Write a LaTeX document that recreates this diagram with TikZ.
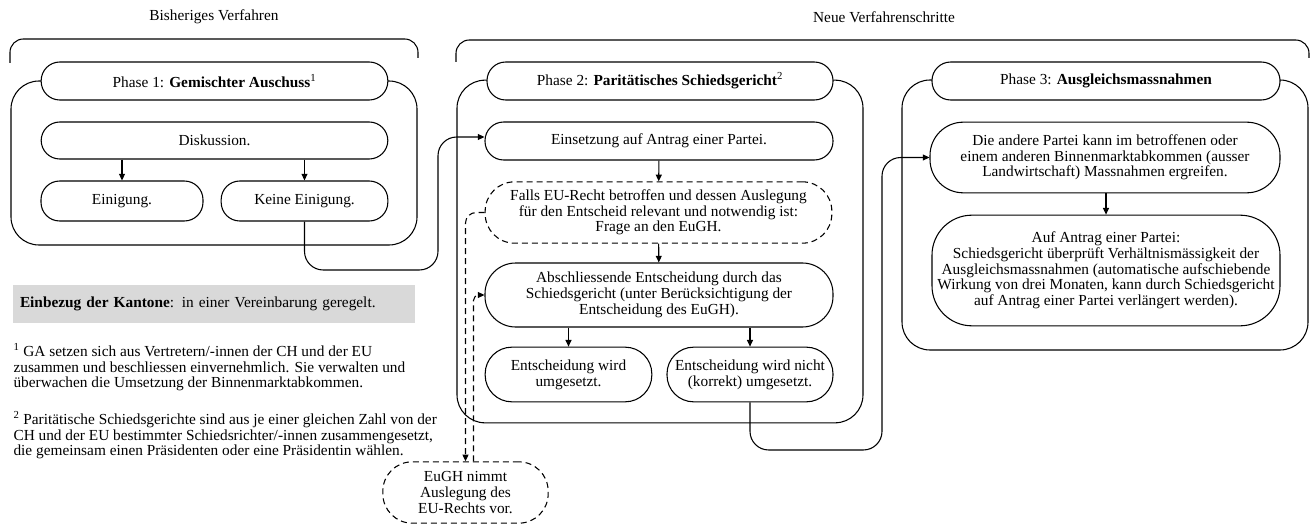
\documentclass[tikz,border=0pt]{standalone}
\usepackage{fontspec}
\setmainfont{Liberation Serif}
\usetikzlibrary{arrows.meta}

\tikzset{
  pill/.style={draw,fill=white,align=center,inner sep=1pt,rounded corners=14pt},
  dashpill/.style={pill,dash pattern=on 4.5pt off 3pt},
  phasebox/.style={draw,rounded corners=21pt},
  arr/.style={-{Triangle[length=5pt,width=4.5pt]}},
  darr/.style={arr,dash pattern=on 4.5pt off 3pt},
  graybox/.style={fill=black!15,minimum height=28.5pt,text width=291pt,align=left,inner xsep=5pt},
  note/.style={anchor=north west,align=left,inner sep=0pt}
}

\begin{document}
\begin{tikzpicture}[x=0.75pt,y=-0.75pt,line width=0.8pt,font=\fontsize{11.5}{11.8}\selectfont]
\useasboundingbox (0,0) rectangle (1314,524);

% titles and brackets
\node (tbis) at (214,17) {Bisheriges Verfahren};
\node (tneu) at (884,17) {Neue Verfahrenschritte};
\draw[rounded corners=10pt] (10,63) |- (418,39) -- (418,58);
\draw[rounded corners=10pt] (456,62) |- (1309,40) -- (1309,58);

% phase 1
\node[phasebox,minimum width=304.5pt,minimum height=123pt] (p1box) at (214,163) {};
\node[pill,minimum width=260pt,minimum height=28.5pt] (p1head) at (214.5,81) {Phase 1: \textbf{Gemischter Auschuss}\textsuperscript{1}};
\node[pill,minimum width=260pt,minimum height=27.75pt] (disk) at (214.5,140.5) {Diskussion.};
\node[pill,minimum width=121.5pt,minimum height=30pt] (einig) at (122,201) {Einigung.};
\node[pill,minimum width=125pt,minimum height=30pt] (keine) at (304.5,201) {Keine Einigung.};
\draw[arr] (einig.north |- disk.south) -- (einig.north);
\draw[arr] (keine.north |- disk.south) -- (keine.north);

% phase 2
\node[phasebox,minimum width=304.5pt,minimum height=257pt] (p2box) at (660,251.5) {};
\node[pill,minimum width=259.5pt,minimum height=28.5pt] (p2head) at (660,81) {Phase 2: \textbf{Paritätisches Schiedsgericht}\textsuperscript{2}};
\node[pill,minimum width=261pt,minimum height=28.5pt] (einsetz) at (659,141) {Einsetzung auf Antrag einer Partei.};
\node[dashpill,rounded corners=22pt,minimum width=260pt,minimum height=46pt] (falls) at (658.5,212.5) {Falls EU-Recht betroffen und dessen Auslegung\\für den Entscheid relevant und notwendig ist:\\Frage an den EuGH.};
\node[pill,rounded corners=23pt,minimum width=261pt,minimum height=48pt] (absch) at (659,295) {Abschliessende Entscheidung durch das\\Schiedsgericht (unter Berücksichtigung der\\Entscheidung des EuGH).};
\node[pill,rounded corners=20pt,minimum width=125pt,minimum height=41pt] (umg) at (568.5,374.5) {Entscheidung wird\\umgesetzt.};
\node[pill,rounded corners=20pt,minimum width=124.5pt,minimum height=41pt] (nicht) at (750,374.5) {Entscheidung wird nicht\\(korrekt) umgesetzt.};
\draw[arr] (einsetz) -- (falls);
\draw[arr] (falls) -- (absch);
\draw[arr] (umg.north |- absch.south) -- (umg.north);
\draw[arr] (nicht.north |- absch.south) -- (nicht.north);

% phase 3
\node[phasebox,minimum width=304.5pt,minimum height=202.5pt] (p3box) at (1105,215) {};
\node[pill,minimum width=261pt,minimum height=28.5pt] (p3head) at (1106,81) {Phase 3: \textbf{Ausgleichsmassnahmen}};
\node[pill,rounded corners=25pt,minimum width=262.5pt,minimum height=53pt] (die) at (1105,157.5) {Die andere Partei kann im betroffenen oder\\einem anderen Binnenmarktabkommen (ausser\\Landwirtschaft) Massnahmen ergreifen.};
\node[pill,rounded corners=30pt,minimum width=261pt,minimum height=83pt] (auf) at (1106,270.5) {Auf Antrag einer Partei:\\Schiedsgericht überprüft Verhältnismässigkeit der\\Ausgleichsmassnahmen (automatische aufschiebende\\Wirkung von drei Monaten, kann durch Schiedsgericht\\auf Antrag einer Partei verlängert werden).};
\draw[arr] (die.south -| auf.north) -- (auf.north);

% EuGH
\node[dashpill,rounded corners=22pt,minimum width=124pt,minimum height=46pt] (eugh) at (465.5,492.5) {EuGH nimmt\\Auslegung des\\EU-Rechts vor.};

% links between phases
\coordinate (k1) at (438,270);
\coordinate (k2) at (882,450);
\draw[arr,rounded corners=14pt] (keine.south) |- (k1) |- ([yshift=3pt]einsetz.west);
\draw[arr,rounded corners=14pt] (nicht.south) |- (k2) |- (die.west);
\draw[darr,rounded corners=8pt] (falls.west) -| (eugh.north);
\draw[darr,rounded corners=4pt] ([xshift=6pt]eugh.north) |- (absch.west);

% notes
\node[graybox] (kant) at (214,304) {\textbf{Einbezug der Kantone}: in einer Vereinbarung geregelt.};
\node[note] (fn1) at (13,343) {\textsuperscript{1} GA setzen sich aus Vertretern/-innen der CH und der EU\\zusammen und beschliessen einvernehmlich. Sie verwalten und\\überwachen die Umsetzung der Binnenmarktabkommen.};
\node[note] (fn2) at (13,411) {\textsuperscript{2} Paritätische Schiedsgerichte sind aus je einer gleichen Zahl von der\\CH und der EU bestimmter Schiedsrichter/-innen zusammengesetzt,\\die gemeinsam einen Präsidenten oder eine Präsidentin wählen.};
\end{tikzpicture}
\end{document}
